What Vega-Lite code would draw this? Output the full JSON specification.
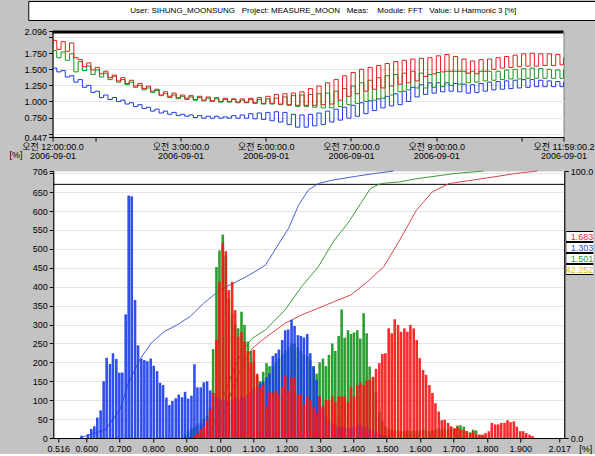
{
"$schema": "https://vega.github.io/schema/vega-lite/v6.json",
"background": "#c3c3c3",
"padding": {"left": 2, "top": 0, "right": 0, "bottom": 0},
"spacing": 5,
"center": true,
"resolve": {"scale": {"color": "independent", "stroke": "independent"}, "legend": {"color": "independent", "stroke": "independent"}},
"config": {
  "font": "Liberation Sans",
  "view": {"fill": "white", "stroke": "#7f7f7f"},
  "axis": {"labelFont": "Liberation Sans, Noto Sans CJK KR", "labelFontSize": 9, "labelColor": "#000", "tickColor": "#000", "domainColor": "#000", "tickSize": 4, "labelPadding": 2, "gridColor": "#e4e4e4", "titleFont": "Liberation Sans", "titleFontWeight": "normal", "titleFontSize": 9, "titleColor": "#000", "labelFlush": false, "labelOverlap": false, "tickCount": 100}
},
"vconcat": [
{
  "width": 590, "height": 19,
  "view": {"fill": "white", "stroke": "#000"},
  "data": {"values": [{"label": "User: SIHUNG_MOONSUNG\u00a0\u00a0 Project: MEASURE_MOON\u00a0\u00a0 Meas:\u00a0\u00a0\u00a0 Module: FFT\u00a0\u00a0 Value: U Harmonic 3 [%]"}]},
  "mark": {"type": "text", "fontSize": 8, "color": "#000", "font": "Liberation Sans", "align": "center"},
  "encoding": {"text": {"field": "label"}}
},
{
  "width": 511, "height": 106,
  "layer": [
    {
      "data": {"values": [{"lim": 2.08}]},
      "mark": {"type": "rule", "color": "#000", "strokeWidth": 3},
      "encoding": {"y": {"field": "lim", "type": "quantitative"}}
    },
    {
      "data": {"values": [
{"t":0.0,"L1":1.95,"L2":1.52,"L3":1.79},{"t":0.1,"L1":1.81,"L2":1.46,"L3":1.68},{"t":0.2,"L1":1.93,"L2":1.48,"L3":1.77},{"t":0.3,"L1":1.78,"L2":1.38,"L3":1.64},{"t":0.4,"L1":1.91,"L2":1.40,"L3":1.74},{"t":0.5,"L1":1.68,"L2":1.30,"L3":1.46},{"t":0.6,"L1":1.65,"L2":1.34,"L3":1.62},{"t":0.7,"L1":1.54,"L2":1.22,"L3":1.48},{"t":0.8,"L1":1.60,"L2":1.25,"L3":1.55},{"t":0.9,"L1":1.49,"L2":1.14,"L3":1.42},
{"t":1.0,"L1":1.53,"L2":1.16,"L3":1.49},{"t":1.1,"L1":1.43,"L2":1.06,"L3":1.38},{"t":1.2,"L1":1.47,"L2":1.10,"L3":1.44},{"t":1.3,"L1":1.37,"L2":1.03,"L3":1.34},{"t":1.4,"L1":1.41,"L2":1.06,"L3":1.39},{"t":1.5,"L1":1.32,"L2":1.00,"L3":1.30},{"t":1.6,"L1":1.37,"L2":1.02,"L3":1.34},{"t":1.7,"L1":1.28,"L2":0.96,"L3":1.26},{"t":1.8,"L1":1.33,"L2":0.98,"L3":1.30},{"t":1.9,"L1":1.24,"L2":0.92,"L3":1.22},
{"t":2.0,"L1":1.28,"L2":0.95,"L3":1.25},{"t":2.1,"L1":1.20,"L2":0.89,"L3":1.18},{"t":2.2,"L1":1.24,"L2":0.91,"L3":1.21},{"t":2.3,"L1":1.16,"L2":0.85,"L3":1.14},{"t":2.4,"L1":1.19,"L2":0.88,"L3":1.17},{"t":2.5,"L1":1.10,"L2":0.82,"L3":1.09},{"t":2.6,"L1":1.15,"L2":0.85,"L3":1.12},{"t":2.7,"L1":1.08,"L2":0.80,"L3":1.06},{"t":2.8,"L1":1.13,"L2":0.83,"L3":1.10},{"t":2.9,"L1":1.06,"L2":0.78,"L3":1.04},
{"t":3.0,"L1":1.10,"L2":0.80,"L3":1.08},{"t":3.1,"L1":1.05,"L2":0.77,"L3":1.03},{"t":3.2,"L1":1.09,"L2":0.79,"L3":1.07},{"t":3.3,"L1":1.03,"L2":0.75,"L3":1.02},{"t":3.4,"L1":1.08,"L2":0.78,"L3":1.06},{"t":3.5,"L1":1.02,"L2":0.74,"L3":1.01},{"t":3.6,"L1":1.07,"L2":0.77,"L3":1.05},{"t":3.7,"L1":1.01,"L2":0.74,"L3":1.00},{"t":3.8,"L1":1.06,"L2":0.77,"L3":1.04},{"t":3.9,"L1":1.00,"L2":0.74,"L3":0.99},
{"t":4.0,"L1":1.05,"L2":0.76,"L3":1.03},{"t":4.1,"L1":1.00,"L2":0.74,"L3":0.99},{"t":4.2,"L1":1.04,"L2":0.78,"L3":1.03},{"t":4.3,"L1":0.99,"L2":0.74,"L3":0.98},{"t":4.4,"L1":1.04,"L2":0.79,"L3":1.02},{"t":4.5,"L1":0.99,"L2":0.74,"L3":0.98},{"t":4.6,"L1":1.05,"L2":0.81,"L3":1.03},{"t":4.7,"L1":0.98,"L2":0.73,"L3":0.97},{"t":4.8,"L1":1.06,"L2":0.82,"L3":1.03},{"t":4.9,"L1":0.97,"L2":0.72,"L3":0.96},
{"t":5.0,"L1":1.08,"L2":0.83,"L3":1.04},{"t":5.1,"L1":0.97,"L2":0.70,"L3":0.96},{"t":5.2,"L1":1.11,"L2":0.84,"L3":1.05},{"t":5.3,"L1":0.96,"L2":0.68,"L3":0.95},{"t":5.4,"L1":1.12,"L2":0.83,"L3":1.07},{"t":5.5,"L1":0.95,"L2":0.64,"L3":0.94},{"t":5.6,"L1":1.13,"L2":0.80,"L3":1.09},{"t":5.7,"L1":0.94,"L2":0.60,"L3":0.92},{"t":5.8,"L1":1.15,"L2":0.79,"L3":1.10},{"t":5.9,"L1":0.94,"L2":0.60,"L3":0.92},
{"t":6.0,"L1":1.20,"L2":0.80,"L3":1.11},{"t":6.1,"L1":0.94,"L2":0.62,"L3":0.91},{"t":6.2,"L1":1.24,"L2":0.82,"L3":1.12},{"t":6.3,"L1":0.95,"L2":0.64,"L3":0.90},{"t":6.4,"L1":1.29,"L2":0.85,"L3":1.13},{"t":6.5,"L1":0.96,"L2":0.68,"L3":0.90},{"t":6.6,"L1":1.34,"L2":0.88,"L3":1.16},{"t":6.7,"L1":1.02,"L2":0.71,"L3":0.92},{"t":6.8,"L1":1.40,"L2":0.91,"L3":1.20},{"t":6.9,"L1":1.08,"L2":0.74,"L3":0.95},
{"t":7.0,"L1":1.45,"L2":0.94,"L3":1.24},{"t":7.1,"L1":1.12,"L2":0.77,"L3":0.97},{"t":7.2,"L1":1.50,"L2":0.98,"L3":1.29},{"t":7.3,"L1":1.16,"L2":0.81,"L3":1.00},{"t":7.4,"L1":1.53,"L2":1.01,"L3":1.33},{"t":7.5,"L1":1.19,"L2":0.86,"L3":1.02},{"t":7.6,"L1":1.56,"L2":1.04,"L3":1.37},{"t":7.7,"L1":1.21,"L2":0.90,"L3":1.05},{"t":7.8,"L1":1.59,"L2":1.08,"L3":1.40},{"t":7.9,"L1":1.24,"L2":0.93,"L3":1.10},
{"t":8.0,"L1":1.62,"L2":1.12,"L3":1.42},{"t":8.1,"L1":1.27,"L2":0.95,"L3":1.15},{"t":8.2,"L1":1.64,"L2":1.16,"L3":1.44},{"t":8.3,"L1":1.29,"L2":1.00,"L3":1.18},{"t":8.4,"L1":1.66,"L2":1.22,"L3":1.47},{"t":8.5,"L1":1.32,"L2":1.07,"L3":1.21},{"t":8.6,"L1":1.67,"L2":1.26,"L3":1.44},{"t":8.7,"L1":1.39,"L2":1.11,"L3":1.21},{"t":8.8,"L1":1.68,"L2":1.29,"L3":1.42},{"t":8.9,"L1":1.43,"L2":1.13,"L3":1.22},
{"t":9.0,"L1":1.71,"L2":1.29,"L3":1.45},{"t":9.1,"L1":1.46,"L2":1.15,"L3":1.23},{"t":9.2,"L1":1.73,"L2":1.29,"L3":1.47},{"t":9.3,"L1":1.47,"L2":1.16,"L3":1.25},{"t":9.4,"L1":1.70,"L2":1.28,"L3":1.47},{"t":9.5,"L1":1.47,"L2":1.15,"L3":1.27},{"t":9.6,"L1":1.66,"L2":1.27,"L3":1.47},{"t":9.7,"L1":1.44,"L2":1.13,"L3":1.29},{"t":9.8,"L1":1.63,"L2":1.26,"L3":1.47},{"t":9.9,"L1":1.43,"L2":1.14,"L3":1.30},
{"t":10.0,"L1":1.65,"L2":1.28,"L3":1.47},{"t":10.1,"L1":1.47,"L2":1.16,"L3":1.32},{"t":10.2,"L1":1.66,"L2":1.30,"L3":1.47},{"t":10.3,"L1":1.50,"L2":1.18,"L3":1.33},{"t":10.4,"L1":1.68,"L2":1.31,"L3":1.47},{"t":10.5,"L1":1.52,"L2":1.19,"L3":1.34},{"t":10.6,"L1":1.70,"L2":1.32,"L3":1.49},{"t":10.7,"L1":1.53,"L2":1.20,"L3":1.35},{"t":10.8,"L1":1.72,"L2":1.33,"L3":1.50},{"t":10.9,"L1":1.54,"L2":1.21,"L3":1.35},
{"t":11.0,"L1":1.74,"L2":1.34,"L3":1.51},{"t":11.1,"L1":1.55,"L2":1.22,"L3":1.36},{"t":11.2,"L1":1.75,"L2":1.34,"L3":1.52},{"t":11.3,"L1":1.55,"L2":1.23,"L3":1.36},{"t":11.4,"L1":1.74,"L2":1.33,"L3":1.51},{"t":11.5,"L1":1.56,"L2":1.23,"L3":1.36},{"t":11.6,"L1":1.74,"L2":1.32,"L3":1.50},{"t":11.7,"L1":1.56,"L2":1.23,"L3":1.36},{"t":11.8,"L1":1.73,"L2":1.31,"L3":1.49},{"t":11.9,"L1":1.57,"L2":1.23,"L3":1.36},
{"t":11.9834,"L1":1.68,"L2":1.30,"L3":1.50}
      ]},
      "transform": [{"fold": ["L2", "L3", "L1"], "as": ["s", "v"]}],
      "mark": {"type": "line", "interpolate": "step-after", "strokeWidth": 1},
      "encoding": {
        "x": {"field": "t", "type": "quantitative", "scale": {"domain": [0, 11.9834], "nice": false, "zero": false},
          "axis": {"values": [0, 1, 3, 5, 7, 9, 11, 11.9834], "tickCount": 100, "grid": false, "labelOverlap": false, "title": "[%]", "titleX": -37, "titleY": 17, "titleAlign": "center", "titleBaseline": "middle", "labelLineHeight": 9, "labelPadding": 1,
            "labelExpr": "datum.value == 0 ? ['오전 12:00:00.0', '2006-09-01'] : datum.value == 3 ? ['오전 3:00:00.0', '2006-09-01'] : datum.value == 5 ? ['오전 5:00:00.0', '2006-09-01'] : datum.value == 7 ? ['오전 7:00:00.0', '2006-09-01'] : datum.value == 9 ? ['오전 9:00:00.0', '2006-09-01'] : datum.value > 11.5 ? ['오전 11:59:00.2', '2006-09-01'] : ''"}},
        "y": {"field": "v", "type": "quantitative", "scale": {"domain": [0.447, 2.096], "nice": false, "zero": false},
          "axis": {"values": [0.447, 0.5, 0.75, 1, 1.25, 1.5, 1.75, 2, 2.096], "tickCount": 100, "title": null, "grid": true, "labelOverlap": false, "minExtent": 50, "maxExtent": 50,
            "labelExpr": "datum.value == 0.5 || datum.value == 2 ? '' : format(datum.value, '.3f')"}},
        "stroke": {"field": "s", "type": "nominal", "scale": {"domain": ["L1", "L2", "L3"], "range": ["#e41c1c", "#1c3ae0", "#189418"]}, "legend": null}
      }
    }
  ]
},
{
  "width": 511, "height": 267,
  "resolve": {"scale": {"y": "independent"}},
  "layer": [
    {
      "layer": [
        {
          "data": {"values": [{"p": 95}]},
          "mark": {"type": "rule", "color": "#000", "strokeWidth": 1},
          "encoding": {"y": {"field": "p", "type": "quantitative", "scale": {"domain": [0, 100], "nice": false}}}
        },
        {
          "data": {"values": [
{"s":"L2","v":0.58,"p":0},{"s":"L2","v":0.657,"p":3.1},{"s":"L2","v":0.701,"p":10.6},{"s":"L2","v":0.726,"p":20.5},{"s":"L2","v":0.76,"p":29.3},{"s":"L2","v":0.794,"p":35.5},{"s":"L2","v":0.834,"p":39.9},{"s":"L2","v":0.873,"p":42.4},{"s":"L2","v":0.912,"p":45.6},{"s":"L2","v":0.951,"p":50.4},{"s":"L2","v":1.0,"p":55.4},{"s":"L2","v":1.04,"p":57.9},{"s":"L2","v":1.079,"p":60.4},{"s":"L2","v":1.113,"p":62.9},{"s":"L2","v":1.137,"p":64.8},{"s":"L2","v":1.177,"p":72.8},{"s":"L2","v":1.206,"p":78.5},{"s":"L2","v":1.236,"p":87.2},{"s":"L2","v":1.265,"p":92.8},{"s":"L2","v":1.295,"p":95.3},{"s":"L2","v":1.334,"p":96.5},{"s":"L2","v":1.407,"p":98},{"s":"L2","v":1.46,"p":99},{"s":"L2","v":1.52,"p":100},
{"s":"L3","v":0.9,"p":0},{"s":"L3","v":0.95,"p":1},{"s":"L3","v":0.97,"p":2.5},{"s":"L3","v":0.99,"p":8},{"s":"L3","v":1.01,"p":15},{"s":"L3","v":1.03,"p":22},{"s":"L3","v":1.05,"p":28},{"s":"L3","v":1.07,"p":33},{"s":"L3","v":1.098,"p":37.4},{"s":"L3","v":1.137,"p":40.5},{"s":"L3","v":1.196,"p":48},{"s":"L3","v":1.245,"p":56.7},{"s":"L3","v":1.295,"p":64.1},{"s":"L3","v":1.343,"p":74.1},{"s":"L3","v":1.383,"p":80.3},{"s":"L3","v":1.422,"p":87.8},{"s":"L3","v":1.451,"p":93.4},{"s":"L3","v":1.481,"p":95.3},{"s":"L3","v":1.539,"p":95.9},{"s":"L3","v":1.589,"p":97.1},{"s":"L3","v":1.701,"p":99},{"s":"L3","v":1.79,"p":100},
{"s":"L1","v":0.93,"p":0},{"s":"L1","v":0.96,"p":0.5},{"s":"L1","v":0.98,"p":2},{"s":"L1","v":1.0,"p":5},{"s":"L1","v":1.02,"p":12},{"s":"L1","v":1.04,"p":19},{"s":"L1","v":1.06,"p":25},{"s":"L1","v":1.08,"p":30},{"s":"L1","v":1.098,"p":33.6},{"s":"L1","v":1.128,"p":36.8},{"s":"L1","v":1.196,"p":43},{"s":"L1","v":1.245,"p":46.1},{"s":"L1","v":1.295,"p":48.6},{"s":"L1","v":1.343,"p":51.1},{"s":"L1","v":1.393,"p":53.6},{"s":"L1","v":1.442,"p":58.5},{"s":"L1","v":1.491,"p":64.1},{"s":"L1","v":1.539,"p":74.1},{"s":"L1","v":1.589,"p":85.3},{"s":"L1","v":1.637,"p":92.2},{"s":"L1","v":1.687,"p":95.3},{"s":"L1","v":1.785,"p":97.1},{"s":"L1","v":1.883,"p":99},{"s":"L1","v":1.951,"p":100}
          ]},
          "mark": {"type": "line", "strokeWidth": 1},
          "encoding": {
            "x": {"field": "v", "type": "quantitative", "scale": {"domain": [0.516, 2.017], "nice": false, "zero": false}},
            "y": {"field": "p", "type": "quantitative", "scale": {"domain": [0, 100], "nice": false},
              "axis": {"orient": "right", "values": [0, 100], "tickCount": 100, "format": ".1f", "grid": false, "labelOverlap": false, "title": null}},
            "stroke": {"field": "s", "type": "nominal", "scale": {"domain": ["L1", "L2", "L3"], "range": ["#d84848", "#4a60d0", "#3c9c3c"]}, "legend": null}
          }
        }
      ]
    },
    {
      "data": {"values": [
{"s":"L3","v":0.896,"n":10},{"s":"L3","v":0.905,"n":18},{"s":"L3","v":0.915,"n":25},{"s":"L3","v":0.924,"n":30},{"s":"L3","v":0.933,"n":35},{"s":"L3","v":0.943,"n":40},{"s":"L3","v":0.952,"n":50},{"s":"L3","v":0.962,"n":60},{"s":"L3","v":0.971,"n":80},{"s":"L3","v":0.98,"n":235},
{"s":"L3","v":0.99,"n":452},{"s":"L3","v":0.999,"n":496},{"s":"L3","v":1.009,"n":538},{"s":"L3","v":1.018,"n":480},{"s":"L3","v":1.027,"n":370},{"s":"L3","v":1.037,"n":330},{"s":"L3","v":1.046,"n":300},{"s":"L3","v":1.055,"n":290},{"s":"L3","v":1.065,"n":334},{"s":"L3","v":1.074,"n":299},
{"s":"L3","v":1.084,"n":255},{"s":"L3","v":1.093,"n":230},{"s":"L3","v":1.102,"n":200},{"s":"L3","v":1.112,"n":165},{"s":"L3","v":1.121,"n":150},{"s":"L3","v":1.13,"n":175},{"s":"L3","v":1.14,"n":198},{"s":"L3","v":1.149,"n":190},{"s":"L3","v":1.159,"n":190},{"s":"L3","v":1.168,"n":200},
{"s":"L3","v":1.177,"n":210},{"s":"L3","v":1.187,"n":220},{"s":"L3","v":1.196,"n":230},{"s":"L3","v":1.205,"n":240},{"s":"L3","v":1.215,"n":250},{"s":"L3","v":1.224,"n":250},{"s":"L3","v":1.234,"n":240},{"s":"L3","v":1.243,"n":230},{"s":"L3","v":1.252,"n":220},{"s":"L3","v":1.262,"n":215},
{"s":"L3","v":1.271,"n":205},{"s":"L3","v":1.281,"n":190},{"s":"L3","v":1.29,"n":170},{"s":"L3","v":1.299,"n":200},{"s":"L3","v":1.309,"n":210},{"s":"L3","v":1.318,"n":190},{"s":"L3","v":1.327,"n":220},{"s":"L3","v":1.337,"n":250},{"s":"L3","v":1.346,"n":230},{"s":"L3","v":1.356,"n":270},
{"s":"L3","v":1.365,"n":340},{"s":"L3","v":1.374,"n":265},{"s":"L3","v":1.384,"n":285},{"s":"L3","v":1.393,"n":275},{"s":"L3","v":1.402,"n":279},{"s":"L3","v":1.412,"n":285},{"s":"L3","v":1.421,"n":263},{"s":"L3","v":1.431,"n":330},{"s":"L3","v":1.44,"n":277},{"s":"L3","v":1.449,"n":189},
{"s":"L3","v":1.459,"n":158},{"s":"L3","v":1.468,"n":120},{"s":"L3","v":1.478,"n":70},{"s":"L3","v":1.487,"n":45},{"s":"L3","v":1.496,"n":30},{"s":"L3","v":1.506,"n":25},{"s":"L3","v":1.515,"n":22},{"s":"L3","v":1.524,"n":20},{"s":"L3","v":1.534,"n":20},{"s":"L3","v":1.543,"n":18},
{"s":"L3","v":1.553,"n":18},{"s":"L3","v":1.562,"n":20},{"s":"L3","v":1.571,"n":18},{"s":"L3","v":1.581,"n":20},{"s":"L3","v":1.59,"n":18},{"s":"L3","v":1.599,"n":20},{"s":"L3","v":1.609,"n":22},{"s":"L3","v":1.618,"n":20},{"s":"L3","v":1.628,"n":18},{"s":"L3","v":1.637,"n":20},
{"s":"L3","v":1.646,"n":22},{"s":"L3","v":1.656,"n":25},{"s":"L3","v":1.665,"n":22},{"s":"L3","v":1.674,"n":25},{"s":"L3","v":1.684,"n":22},{"s":"L3","v":1.693,"n":28},{"s":"L3","v":1.703,"n":25},{"s":"L3","v":1.712,"n":33},{"s":"L3","v":1.721,"n":34},{"s":"L3","v":1.731,"n":30},
{"s":"L3","v":1.74,"n":18},{"s":"L3","v":1.75,"n":15},{"s":"L3","v":1.759,"n":22},{"s":"L3","v":1.768,"n":20},{"s":"L3","v":1.778,"n":8},{"s":"L3","v":1.787,"n":6},{"s":"L3","v":1.796,"n":4},
{"s":"L2","v":0.586,"n":6},{"s":"L2","v":0.605,"n":10},{"s":"L2","v":0.615,"n":24},{"s":"L2","v":0.624,"n":31},{"s":"L2","v":0.633,"n":54},{"s":"L2","v":0.643,"n":73},{"s":"L2","v":0.652,"n":150},{"s":"L2","v":0.661,"n":212},{"s":"L2","v":0.671,"n":196},{"s":"L2","v":0.68,"n":224},
{"s":"L2","v":0.69,"n":209},{"s":"L2","v":0.699,"n":173},{"s":"L2","v":0.708,"n":173},{"s":"L2","v":0.718,"n":327},{"s":"L2","v":0.727,"n":641},{"s":"L2","v":0.736,"n":639},{"s":"L2","v":0.746,"n":365},{"s":"L2","v":0.755,"n":245},{"s":"L2","v":0.765,"n":210},{"s":"L2","v":0.774,"n":206},
{"s":"L2","v":0.783,"n":203},{"s":"L2","v":0.793,"n":210},{"s":"L2","v":0.802,"n":191},{"s":"L2","v":0.812,"n":177},{"s":"L2","v":0.821,"n":146},{"s":"L2","v":0.83,"n":140},{"s":"L2","v":0.84,"n":107},{"s":"L2","v":0.849,"n":87},{"s":"L2","v":0.858,"n":98},{"s":"L2","v":0.868,"n":105},
{"s":"L2","v":0.877,"n":115},{"s":"L2","v":0.887,"n":108},{"s":"L2","v":0.896,"n":122},{"s":"L2","v":0.905,"n":104},{"s":"L2","v":0.915,"n":112},{"s":"L2","v":0.924,"n":195},{"s":"L2","v":0.933,"n":134},{"s":"L2","v":0.943,"n":134},{"s":"L2","v":0.952,"n":147},{"s":"L2","v":0.962,"n":150},
{"s":"L2","v":0.971,"n":126},{"s":"L2","v":0.98,"n":119},{"s":"L2","v":0.99,"n":110},{"s":"L2","v":0.999,"n":105},{"s":"L2","v":1.009,"n":100},{"s":"L2","v":1.018,"n":100},{"s":"L2","v":1.027,"n":95},{"s":"L2","v":1.037,"n":100},{"s":"L2","v":1.046,"n":105},{"s":"L2","v":1.055,"n":100},
{"s":"L2","v":1.065,"n":110},{"s":"L2","v":1.074,"n":105},{"s":"L2","v":1.084,"n":115},{"s":"L2","v":1.093,"n":120},{"s":"L2","v":1.102,"n":130},{"s":"L2","v":1.112,"n":135},{"s":"L2","v":1.121,"n":145},{"s":"L2","v":1.13,"n":150},{"s":"L2","v":1.14,"n":160},{"s":"L2","v":1.149,"n":171},
{"s":"L2","v":1.159,"n":217},{"s":"L2","v":1.168,"n":224},{"s":"L2","v":1.177,"n":234},{"s":"L2","v":1.187,"n":259},{"s":"L2","v":1.196,"n":285},{"s":"L2","v":1.205,"n":287},{"s":"L2","v":1.215,"n":312},{"s":"L2","v":1.224,"n":296},{"s":"L2","v":1.234,"n":272},{"s":"L2","v":1.243,"n":270},
{"s":"L2","v":1.252,"n":266},{"s":"L2","v":1.262,"n":275},{"s":"L2","v":1.271,"n":224},{"s":"L2","v":1.281,"n":189},{"s":"L2","v":1.29,"n":154},{"s":"L2","v":1.299,"n":110},{"s":"L2","v":1.309,"n":80},{"s":"L2","v":1.318,"n":60},{"s":"L2","v":1.327,"n":45},{"s":"L2","v":1.337,"n":40},
{"s":"L2","v":1.346,"n":35},{"s":"L2","v":1.356,"n":30},{"s":"L2","v":1.365,"n":30},{"s":"L2","v":1.374,"n":28},{"s":"L2","v":1.384,"n":25},{"s":"L2","v":1.393,"n":25},{"s":"L2","v":1.402,"n":30},{"s":"L2","v":1.412,"n":35},{"s":"L2","v":1.421,"n":35},{"s":"L2","v":1.431,"n":30},
{"s":"L2","v":1.44,"n":28},{"s":"L2","v":1.449,"n":25},{"s":"L2","v":1.459,"n":20},{"s":"L2","v":1.468,"n":15},{"s":"L2","v":1.478,"n":12},{"s":"L2","v":1.487,"n":8},{"s":"L2","v":1.496,"n":5},{"s":"L2","v":1.506,"n":3},
{"s":"L1","v":0.924,"n":5},{"s":"L1","v":0.933,"n":13},{"s":"L1","v":0.943,"n":22},{"s":"L1","v":0.952,"n":30},{"s":"L1","v":0.962,"n":48},{"s":"L1","v":0.971,"n":75},{"s":"L1","v":0.98,"n":119},{"s":"L1","v":0.99,"n":260},{"s":"L1","v":0.999,"n":413},{"s":"L1","v":1.009,"n":516},
{"s":"L1","v":1.018,"n":494},{"s":"L1","v":1.027,"n":391},{"s":"L1","v":1.037,"n":413},{"s":"L1","v":1.046,"n":338},{"s":"L1","v":1.055,"n":268},{"s":"L1","v":1.065,"n":280},{"s":"L1","v":1.074,"n":255},{"s":"L1","v":1.084,"n":230},{"s":"L1","v":1.093,"n":200},{"s":"L1","v":1.102,"n":233},
{"s":"L1","v":1.112,"n":170},{"s":"L1","v":1.121,"n":132},{"s":"L1","v":1.13,"n":140},{"s":"L1","v":1.14,"n":83},{"s":"L1","v":1.149,"n":120},{"s":"L1","v":1.159,"n":120},{"s":"L1","v":1.168,"n":125},{"s":"L1","v":1.177,"n":115},{"s":"L1","v":1.187,"n":135},{"s":"L1","v":1.196,"n":165},
{"s":"L1","v":1.205,"n":125},{"s":"L1","v":1.215,"n":160},{"s":"L1","v":1.224,"n":160},{"s":"L1","v":1.234,"n":115},{"s":"L1","v":1.243,"n":115},{"s":"L1","v":1.252,"n":90},{"s":"L1","v":1.262,"n":110},{"s":"L1","v":1.271,"n":100},{"s":"L1","v":1.281,"n":80},{"s":"L1","v":1.29,"n":65},
{"s":"L1","v":1.299,"n":110},{"s":"L1","v":1.309,"n":85},{"s":"L1","v":1.318,"n":100},{"s":"L1","v":1.327,"n":100},{"s":"L1","v":1.337,"n":110},{"s":"L1","v":1.346,"n":95},{"s":"L1","v":1.356,"n":110},{"s":"L1","v":1.365,"n":110},{"s":"L1","v":1.374,"n":110},{"s":"L1","v":1.384,"n":95},
{"s":"L1","v":1.393,"n":134},{"s":"L1","v":1.402,"n":110},{"s":"L1","v":1.412,"n":140},{"s":"L1","v":1.421,"n":147},{"s":"L1","v":1.431,"n":140},{"s":"L1","v":1.44,"n":151},{"s":"L1","v":1.449,"n":154},{"s":"L1","v":1.459,"n":162},{"s":"L1","v":1.468,"n":183},{"s":"L1","v":1.478,"n":198},
{"s":"L1","v":1.487,"n":222},{"s":"L1","v":1.496,"n":224},{"s":"L1","v":1.506,"n":290},{"s":"L1","v":1.515,"n":277},{"s":"L1","v":1.524,"n":314},{"s":"L1","v":1.534,"n":299},{"s":"L1","v":1.543,"n":281},{"s":"L1","v":1.553,"n":290},{"s":"L1","v":1.562,"n":281},{"s":"L1","v":1.571,"n":299},
{"s":"L1","v":1.581,"n":290},{"s":"L1","v":1.59,"n":259},{"s":"L1","v":1.599,"n":211},{"s":"L1","v":1.609,"n":180},{"s":"L1","v":1.618,"n":167},{"s":"L1","v":1.628,"n":140},{"s":"L1","v":1.637,"n":119},{"s":"L1","v":1.646,"n":92},{"s":"L1","v":1.656,"n":70},{"s":"L1","v":1.665,"n":47},
{"s":"L1","v":1.674,"n":48},{"s":"L1","v":1.684,"n":40},{"s":"L1","v":1.693,"n":31},{"s":"L1","v":1.703,"n":26},{"s":"L1","v":1.712,"n":29},{"s":"L1","v":1.721,"n":22},{"s":"L1","v":1.731,"n":22},{"s":"L1","v":1.74,"n":18},{"s":"L1","v":1.75,"n":13},{"s":"L1","v":1.759,"n":18},
{"s":"L1","v":1.768,"n":9},{"s":"L1","v":1.778,"n":9},{"s":"L1","v":1.787,"n":9},{"s":"L1","v":1.796,"n":13},{"s":"L1","v":1.806,"n":18},{"s":"L1","v":1.815,"n":40},{"s":"L1","v":1.825,"n":36},{"s":"L1","v":1.834,"n":36},{"s":"L1","v":1.843,"n":40},{"s":"L1","v":1.853,"n":40},
{"s":"L1","v":1.862,"n":47},{"s":"L1","v":1.871,"n":42},{"s":"L1","v":1.881,"n":44},{"s":"L1","v":1.89,"n":30},{"s":"L1","v":1.9,"n":18},{"s":"L1","v":1.909,"n":18},{"s":"L1","v":1.918,"n":13},{"s":"L1","v":1.928,"n":9},{"s":"L1","v":1.937,"n":5}
      ]},
      "mark": {"type": "bar", "size": 2.6, "opacity": 0.9},
      "encoding": {
        "x": {"field": "v", "type": "quantitative", "scale": {"domain": [0.516, 2.017], "nice": false, "zero": false},
          "axis": {"values": [0.516, 0.6, 0.7, 0.8, 0.9, 1.0, 1.1, 1.2, 1.3, 1.4, 1.5, 1.6, 1.7, 1.8, 1.9, 2.017], "tickCount": 100, "format": ".3f", "grid": false, "labelOverlap": false, "title": "[%]", "titleX": 532, "titleY": 10, "titleAlign": "center", "titleBaseline": "middle"}},
        "y": {"field": "n", "type": "quantitative", "stack": null, "scale": {"domain": [0, 706], "nice": false},
          "axis": {"orient": "left", "values": [0, 50, 100, 150, 200, 250, 300, 350, 400, 450, 500, 550, 600, 650, 700, 706], "tickCount": 100, "grid": true, "labelOverlap": false, "title": null, "minExtent": 50, "maxExtent": 50,
            "labelExpr": "datum.value == 700 ? '' : format(datum.value, 'd')"}},
        "color": {"field": "s", "type": "nominal", "scale": {"domain": ["L1", "L2", "L3", "N"], "range": ["#fa1414", "#1a3ced", "#13961a", "#e6c800"]},
          "legend": {"orient": "none", "legendX": 512, "legendY": 60, "title": null, "padding": 0, "rowPadding": 0, "clipHeight": 11, "fillColor": "#ffffff",
            "symbolType": "M-1,-0.333L1,-0.333L1,0.333L-1,0.333Z", "symbolSize": 900, "symbolStrokeWidth": 1, "symbolStrokeColor": "#000000", "symbolOffset": 0,
            "labelOffset": -3, "labelAlign": "right", "labelFontSize": 9, "labelFont": "Liberation Sans",
            "labelExpr": "datum.value == 'L1' ? '1.683' : datum.value == 'L2' ? '1.303' : datum.value == 'L3' ? '1.501' : '42.252'",
            "encoding": {
              "symbols": {"fillOpacity": {"value": 0}, "stroke": {"value": "#000000"}, "strokeOpacity": {"value": 1}, "opacity": {"value": 1}},
              "labels": {"fill": {"value": {"expr": "datum.value == 'L1' ? '#e03030' : datum.value == 'L2' ? '#3050e0' : datum.value == 'L3' ? '#30a030' : '#dcc000'"}}}
            }}}
      }
    }
  ]
}
]
}
